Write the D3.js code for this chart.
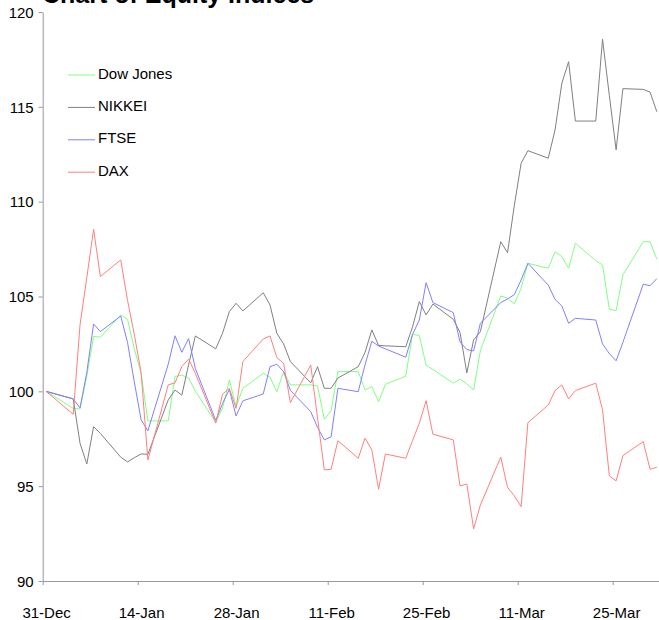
<!DOCTYPE html>
<html>
<head>
<meta charset="utf-8">
<script src="https://cdn.jsdelivr.net/npm/d3@7"></script>
<style>
  html, body { margin: 0; padding: 0; background: #fff; }
  svg { display: block; font-family: "Liberation Sans", Arial, sans-serif; }
</style>
</head>
<body>
<svg id="chart" width="659" height="620"></svg>
<script>
// Trading days (weekdays) from the 31-Dec base date to the end of March
const dates = [
  "2009-12-31",
  "2010-01-04","2010-01-05","2010-01-06","2010-01-07","2010-01-08",
  "2010-01-11","2010-01-12","2010-01-13","2010-01-14","2010-01-15",
  "2010-01-18","2010-01-19","2010-01-20","2010-01-21","2010-01-22",
  "2010-01-25","2010-01-26","2010-01-27","2010-01-28","2010-01-29",
  "2010-02-01","2010-02-02","2010-02-03","2010-02-04","2010-02-05",
  "2010-02-08","2010-02-09","2010-02-10","2010-02-11","2010-02-12",
  "2010-02-15","2010-02-16","2010-02-17","2010-02-18","2010-02-19",
  "2010-02-22","2010-02-23","2010-02-24","2010-02-25","2010-02-26",
  "2010-03-01","2010-03-02","2010-03-03","2010-03-04","2010-03-05",
  "2010-03-08","2010-03-09","2010-03-10","2010-03-11","2010-03-12",
  "2010-03-15","2010-03-16","2010-03-17","2010-03-18","2010-03-19",
  "2010-03-22","2010-03-23","2010-03-24","2010-03-25","2010-03-26",
  "2010-03-29","2010-03-30","2010-03-31"
];

// Index levels rebased to 100 on 31-Dec
const dowJones = [
  100.00,
  99.10, 99.07, 100.80, 102.90, 102.85,
  104.03, 103.80, 102.25, 100.95, 98.44,
  98.44, 100.78, 100.86, 100.70, 100.00,
  98.37, 99.11, 100.60, 99.20, 100.16,
  100.95, 100.74, 99.98, 101.04, 100.34,
  100.34, 100.28, 98.53, 98.98, 101.04,
  101.04, 100.07, 100.25, 99.45, 100.37,
  100.80, 103.00, 102.95, 101.37, 101.15,
  100.43, 100.65, 100.39, 100.07, 102.15,
  105.03, 104.91, 104.61, 105.43, 106.75,
  106.49, 107.36, 107.10, 106.49, 107.81,
  106.89, 106.66, 104.33, 104.25, 106.14,
  107.89, 107.89, 106.96
];
const nikkei = [
  100.00,
  99.60, 97.26, 96.17, 98.14, 97.78,
  96.53, 96.28, 96.50, 96.70, 96.68,
  99.55, 100.07, 99.80, 101.40, 102.92,
  102.24, 103.06, 104.20, 104.64, 104.24,
  105.20, 104.55, 103.06, 102.50, 101.57,
  100.45, 101.30, 100.16, 100.16, 100.70,
  101.30, 102.05, 103.24, 102.42, 102.40,
  102.35, 103.40, 104.73, 104.03, 104.60,
  103.80, 103.10, 100.97, 102.71, 103.15,
  107.89, 107.31, 109.80, 112.02, 112.69,
  112.29, 113.78, 116.24, 117.38, 114.25,
  114.25, 118.56, 115.60, 112.73, 115.96,
  115.92, 115.78, 114.74
];
const ftse = [
  100.00,
  99.60, 99.13, 101.00, 103.55, 103.15,
  103.97, 102.58, 100.50, 98.50, 97.92,
  101.43, 102.93, 102.06, 102.78, 101.20,
  98.47, 99.35, 100.10, 98.70, 99.50,
  99.86, 101.30, 101.43, 101.04, 100.05,
  98.93, 98.10, 97.44, 97.60, 100.16,
  99.98, 101.40, 102.64, 102.39, 102.24,
  101.80, 103.00, 103.76, 105.73, 104.68,
  104.15, 102.60, 102.20, 102.13, 103.59,
  104.68, 104.87, 105.10, 105.87, 106.75,
  105.60, 104.85, 104.50, 103.59, 103.85,
  103.76, 102.50, 101.99, 101.61, 102.58,
  105.65, 105.57, 105.94
];
const dax = [
  100.00,
  98.79, 103.50, 106.00, 108.54, 106.05,
  106.93, 104.80, 103.00, 101.00, 96.38,
  100.34, 100.45, 101.30, 101.70, 100.95,
  98.32, 99.85, 100.16, 99.10, 101.57,
  102.76, 102.92, 101.78, 101.48, 99.40,
  101.39, 98.60, 95.86, 95.89, 97.40,
  96.47, 97.53, 96.91, 94.84, 96.70,
  96.47, 97.40, 98.32, 99.51, 97.74,
  97.44, 95.01, 95.12, 92.75, 94.01,
  96.53, 94.94, 94.49, 93.92, 98.35,
  99.28, 100.04, 100.34, 99.60, 100.04,
  100.43, 99.02, 95.54, 95.28, 96.61,
  97.35, 95.89, 96.00
];

const seriesNames = ["Dow Jones", "NIKKEI", "FTSE", "DAX"];
const seriesColors = ["#80ff80", "#808080", "#8080ff", "#ff8080"];
const yTicks = [90, 95, 100, 105, 110, 115, 120];
const xTickDates = ["2009-12-31","2010-01-14","2010-01-28","2010-02-11","2010-02-25","2010-03-11","2010-03-25"];
const titleText = "Chart of Equity Indices";

const parse = d3.utcParse("%Y-%m-%d");
const halfDay = 12 * 3600 * 1000;

const svg = d3.select("#chart");
const plotLeft = 42.7, plotTop = 12, plotBottom = 581;

// Date axis: each day is a slot, points sit in the middle of their day
const x = d3.scaleUtc()
  .domain([parse("2009-12-31"), parse("2010-04-01")])
  .range([plotLeft, plotLeft + 91 * 6.786]);
const y = d3.scaleLinear().domain([90, 120]).range([plotBottom, plotTop]);

const seriesValues = [dowJones, nikkei, ftse, dax];
const series = seriesNames.map((name, i) => ({
  name,
  color: seriesColors[i],
  points: dates.map((d, j) => ({ t: new Date(parse(d).getTime() + halfDay), v: seriesValues[i][j] }))
}));

const line = d3.line().x(p => x(p.t)).y(p => y(p.v));

const plot = svg.append("g");
plot.selectAll("path.series")
  .data(series)
  .join("path")
  .attr("class", "series")
  .attr("fill", "none")
  .attr("stroke", s => s.color)
  .attr("stroke-width", 1)
  .attr("d", s => line(s.points));

// Y axis
const yAxis = svg.append("g")
  .attr("transform", `translate(${plotLeft},0)`)
  .call(d3.axisLeft(y).tickValues(yTicks).tickSize(4).tickSizeOuter(0).tickPadding(5));
yAxis.select(".domain").attr("stroke", "#999");
yAxis.selectAll(".tick line").attr("stroke", "#999");
yAxis.selectAll(".tick text")
  .attr("font-size", 15)
  .attr("font-family", "Liberation Sans, Arial, sans-serif")
  .attr("fill", "#000")
  .attr("dy", "0.35em");

// X axis: tick marks at day boundaries, labels centred on the day
const xAxis = svg.append("g")
  .attr("transform", `translate(0,${plotBottom})`)
  .call(d3.axisBottom(x)
    .tickValues(xTickDates.map(parse))
    .tickFormat(d3.utcFormat("%d-%b"))
    .tickSize(4).tickSizeOuter(0).tickPadding(33));
xAxis.select(".domain").attr("stroke", "#999");
xAxis.selectAll(".tick line").attr("stroke", "#999");
const dayWidth = x(parse("2010-01-01")) - x(parse("2009-12-31"));
xAxis.selectAll(".tick text")
  .attr("font-size", 15)
  .attr("font-family", "Liberation Sans, Arial, sans-serif")
  .attr("fill", "#000")
  .attr("x", dayWidth / 2)
  .attr("dy", "0");

// Title (its top runs above the page edge)
svg.append("text")
  .attr("x", 42)
  .attr("y", 3)
  .attr("font-size", 25)
  .attr("font-weight", "bold")
  .attr("fill", "#000")
  .text(titleText);

// Legend
const legend = svg.append("g");
const legendRows = legend.selectAll("g")
  .data(series)
  .join("g")
  .attr("transform", (s, i) => `translate(68,${75 + i * 32.4})`);
legendRows.append("line")
  .attr("x1", 0).attr("x2", 27)
  .attr("y1", 0).attr("y2", 0)
  .attr("stroke", s => s.color)
  .attr("stroke-width", 1);
legendRows.append("text")
  .attr("x", 30)
  .attr("y", 3.5)
  .attr("font-size", 15)
  .attr("fill", "#000")
  .text(s => s.name);
</script>
</body>
</html>
